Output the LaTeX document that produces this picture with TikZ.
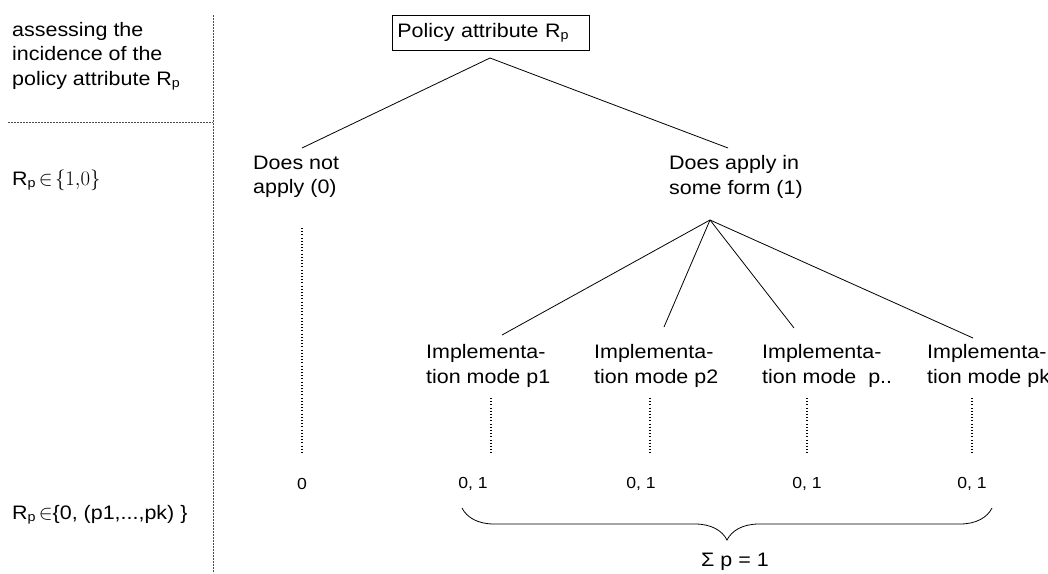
\documentclass[tikz,border=0pt]{standalone}
\usepackage{fontspec}
\setmainfont{Liberation Sans}[FakeStretch=1.1]
\usetikzlibrary{positioning,calc,decorations.pathreplacing}

\newcommand{\Rsub}{R\raisebox{-0.12em}{\fontsize{13}{13}\selectfont p}}

\begin{document}
\begin{tikzpicture}[x=1pt,y=-1pt,
    lbl/.style={font=\fontsize{19.5}{24.5}\selectfont, inner sep=0pt, align=left},
    val/.style={font=\fontsize{16}{18}\selectfont, inner sep=0pt},
    edge/.style={line width=0.8pt},
    dotline/.style={line width=1.1pt, dash pattern=on 1pt off 2.2pt},
    sepline/.style={line width=0.7pt, gray!60!black, dash pattern=on 2pt off 1pt}]
\useasboundingbox (0,0) rectangle (1048,573);

% left column
\draw[sepline] (213,15) -- (213,573);
\draw[sepline] (8,122) -- (213,122);
\node[lbl, anchor=west] (assess) at (12,56) {assessing the\\incidence of the\\policy attribute \Rsub};
\node[lbl, anchor=west] (set1) at (12,180) {\Rsub\,$\in\!\{1{,}0\}$};
\node[lbl, anchor=west] (set2) at (12,515) {\Rsub\,$\in$\{0, (p1,...,pk) \}};

% top of the tree
\node[lbl, draw, line width=0.8pt, anchor=west, text width=187pt, inner xsep=5pt,
      minimum height=35pt] (policy) at (392,32.5) {Policy attribute \Rsub};
\coordinate (top) at (490,58);
\node[lbl, anchor=west] (notapply) at (253,177) {Does not\\apply (0)};
\node[lbl, anchor=west] (doesapply) at (669,177) {Does apply in\\some form (1)};
\coordinate (nl) at (302,148);
\coordinate (nr) at (728,148);
\draw[edge] (top) -- (nl);
\draw[edge] (top) -- (nr);

% does not apply branch
\coordinate (z0) at (302,228);
\coordinate (z1) at (302,453);
\draw[dotline] (z0) -- (z1);
\node[val] (zero) at (302,484) {0};

% implementation modes
\coordinate (apply) at (710,220);
\foreach \i/\x/\lx/\ex/\ey/\m in {1/426/491/502/335/p1, 2/594/650/664/327/p2,
                                  3/762/807/794/328/{\ p..}, 4/927/972/973/338/pk} {
  \node[lbl, anchor=west] (mode\i) at (\x,366) {Implementa-\\tion mode \m};
  \coordinate (e\i) at (\ex,\ey);
  \draw[edge] (apply) -- (e\i);
  \coordinate (d\i) at (\lx,398);
  \coordinate (f\i) at (\lx,455);
  \draw[dotline] (d\i) -- (f\i);
}
\node[val] (v1) at (473,484) {0, 1};
\node[val] (v2) at (641,484) {0, 1};
\node[val] (v3) at (807,484) {0, 1};
\node[val] (v4) at (972,484) {0, 1};

% brace
\coordinate (bl) at (462,508);
\coordinate (br) at (992,508);
\draw[edge, decorate, decoration={brace, mirror, amplitude=32pt, aspect=0.5}] (bl) -- (br);
\node[lbl] (sum) at (735,562) {Σ p = 1};
\end{tikzpicture}
\end{document}
